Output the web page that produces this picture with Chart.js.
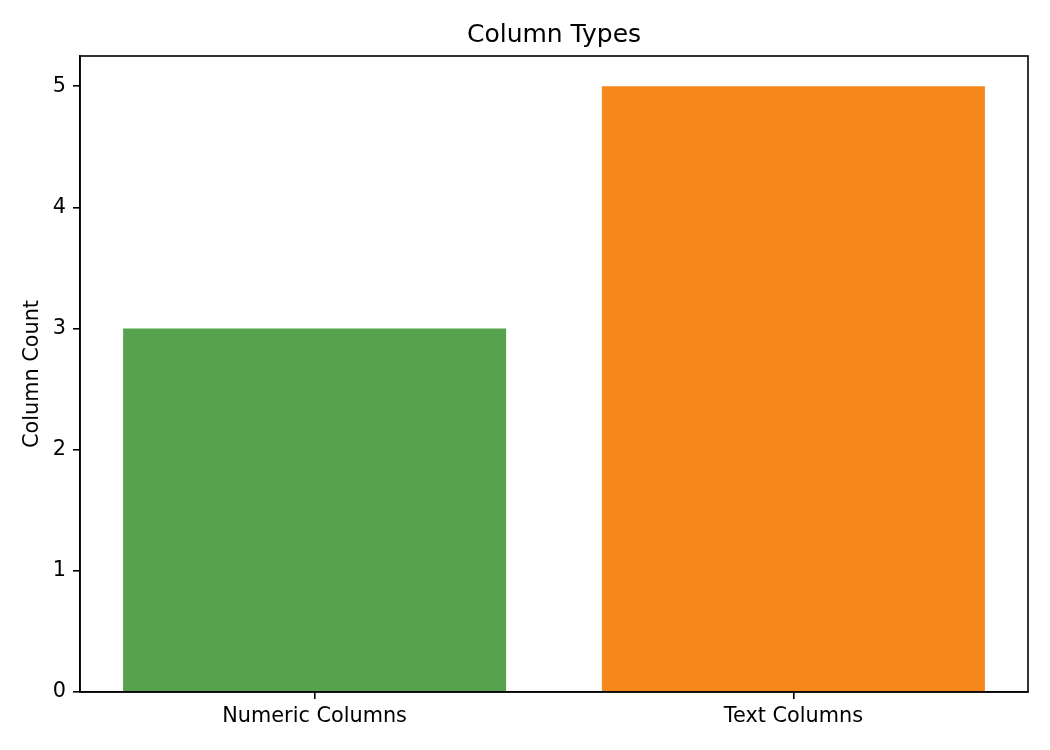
<!DOCTYPE html>
<html>
<head>
<meta charset="utf-8">
<script src="https://cdn.jsdelivr.net/npm/chart.js@4.4.0/dist/chart.umd.min.js"></script>
<style>
  body { margin: 0; background: #fff; }
  #chart { display: block; }
</style>
</head>
<body>
<canvas id="chart" width="1050" height="750"></canvas>
<script>
const categories = ['Numeric Columns', 'Text Columns'];
const columnCounts = [3, 5];
const barColors = ['#56a24e', '#f5871b'];
const yTicks = [0, 1, 2, 3, 4, 5];
const chartTitle = 'Column Types';

Chart.defaults.font.family = '"DejaVu Sans", sans-serif';
Chart.defaults.color = '#000';

// matplotlib-style box around the plot area, title centred over it
const frameBox = {
  id: 'frameBox',
  afterDatasetsDraw(chart) {
    const { ctx, chartArea } = chart;
    ctx.save();
    ctx.strokeStyle = '#000';
    ctx.lineWidth = 1.6;
    ctx.strokeRect(chartArea.left, chartArea.top, chartArea.right - chartArea.left, chartArea.bottom - chartArea.top);
    ctx.fillStyle = '#000';
    ctx.font = '25px "DejaVu Sans", sans-serif';
    ctx.textAlign = 'center';
    ctx.textBaseline = 'middle';
    ctx.fillText(chartTitle, (chartArea.left + chartArea.right) / 2, 35);
    ctx.restore();
  }
};

new Chart(document.getElementById('chart'), {
  type: 'bar',
  data: {
    datasets: [{
      data: columnCounts.map((v, i) => ({ x: i, y: v })),
      backgroundColor: barColors,
      borderWidth: 0,
      barPercentage: 0.8,
      categoryPercentage: 1.0
    }]
  },
  options: {
    responsive: false,
    devicePixelRatio: 1,
    animation: false,
    layout: { padding: { top: 56, left: 0, right: 22, bottom: 0 } },
    plugins: {
      legend: { display: false },
      tooltip: { enabled: false }
    },
    scales: {
      x: {
        type: 'linear',
        offset: false,
        min: -0.49,
        max: categories.length - 1 + 0.49,
        afterFit(scale) { scale.height = 58; },
        afterBuildTicks(scale) { scale.ticks = categories.map((c, i) => ({ value: i })); },
        grid: { display: true, drawOnChartArea: false, offset: false, tickLength: 7, tickColor: '#000', lineWidth: 1.6 },
        border: { display: true, color: '#000', width: 1.6 },
        ticks: {
          font: { size: 20.8 }, color: '#000', padding: 5, includeBounds: false,
          callback: (v) => categories[v]
        }
      },
      y: {
        min: 0,
        max: 5.25,
        afterFit(scale) { scale.width = 80; },
        afterBuildTicks(scale) { scale.ticks = yTicks.map(v => ({ value: v })); },
        grid: { display: true, drawOnChartArea: false, tickLength: 7, tickColor: '#000', lineWidth: 1.6 },
        border: { display: true, color: '#000', width: 1.6 },
        ticks: { font: { size: 20.8 }, color: '#000', padding: 7, includeBounds: false },
        title: {
          display: true,
          text: 'Column Count',
          color: '#000',
          font: { size: 20.8 },
          padding: { top: 20, bottom: 0 }
        }
      }
    }
  },
  plugins: [frameBox]
});
</script>
</body>
</html>
